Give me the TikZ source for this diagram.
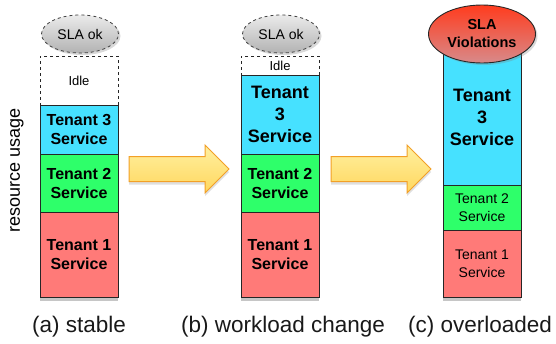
\documentclass[tikz,border=0pt]{standalone}
\usepackage{fontspec}
\setmainfont{Liberation Sans}
\usepackage{tikz}
\usetikzlibrary{shapes,fit,calc,positioning,shadows,backgrounds}

\definecolor{tenantthree}{HTML}{46E1FF}
\definecolor{tenanttwo}{HTML}{2EFF6A}
\definecolor{tenantone}{HTML}{FF7A78}
\definecolor{arrowline}{HTML}{F2A027}
\definecolor{arrowtop}{HTML}{FFF0A0}
\definecolor{arrowbottom}{HTML}{FFD75E}
\definecolor{violtop}{HTML}{FF3C1E}
\definecolor{violbottom}{HTML}{D88A8A}

\begin{document}
\begin{tikzpicture}[x=1pt, y=-1pt,
      every node/.append style={inner sep=0pt, outer sep=0pt, align=center},
      slice/.style={draw=black!85, line width=0.9pt, minimum width=78pt},
      idlebox/.style={slice, dashed, fill=white, font=\fontsize{13}{15}\selectfont},
      big/.style={font=\fontsize{16}{19}\selectfont\bfseries},
      huge/.style={font=\fontsize{18}{22}\selectfont\bfseries},
      small/.style={font=\fontsize{14}{18}\selectfont},
      colshadow/.style={fill=white, drop shadow={shadow xshift=0pt, shadow yshift=-4pt, opacity=.45}},
      slaok/.style={ellipse, draw=black!75, dashed, line width=0.8pt, minimum width=77pt, minimum height=38pt,
        top color=black!8, bottom color=black!30, font=\fontsize{14}{16}\selectfont,
        drop shadow={shadow xshift=2pt, shadow yshift=-2pt, opacity=.3}},
      slabad/.style={ellipse, draw=black!85, line width=0.9pt, minimum width=107pt, minimum height=58pt,
        top color=violtop, bottom color=violbottom, font=\fontsize{14.5}{18}\selectfont\bfseries,
        drop shadow={shadow xshift=2pt, shadow yshift=-2pt, opacity=.3}},
      bigarrow/.style={single arrow, inner xsep=0pt, inner ysep=12pt, minimum height=100pt, minimum width=47pt,
        single arrow head extend=11.5pt, single arrow tip angle=90, draw=arrowline, line width=1pt,
        top color=arrowtop, bottom color=arrowbottom, anchor=tail,
        drop shadow={shadow xshift=0pt, shadow yshift=-3pt, opacity=.25}},
      caption/.style={font=\fontsize{22.5}{26}\selectfont, text=black!90}]
    \useasboundingbox (0,0) rectangle (556,343);

    % (a) stable
    \node (tenant1a) [slice, big, fill=tenantone, minimum height=85pt, anchor=south west] at (40,297) {Tenant 1\\Service};
    \node (tenant2a) [slice, big, fill=tenanttwo, minimum height=58pt, above=0pt of tenant1a] {Tenant 2\\Service};
    \node (tenant3a) [slice, big, fill=tenantthree, minimum height=49pt, above=0pt of tenant2a] {Tenant 3\\Service};
    \node (idlea) [idlebox, minimum height=49pt, above=0pt of tenant3a] {Idle};
    \node (slaoka) [slaok] at (80,34) {SLA ok};

    % (b) workload change
    \node (tenant1b) [slice, big, fill=tenantone, minimum height=85pt, anchor=south west] at (241,297) {Tenant 1\\Service};
    \node (tenant2b) [slice, big, fill=tenanttwo, minimum height=58pt, above=0pt of tenant1b] {Tenant 2\\Service};
    \node (tenant3b) [slice, huge, fill=tenantthree, minimum height=79pt, above=0pt of tenant2b] {Tenant\\3\\Service};
    \node (idleb) [idlebox, minimum height=19pt, above=0pt of tenant3b] {Idle};
    \node (slaokb) [slaok] at (281,34) {SLA ok};

    % (c) overloaded
    \node (tenant1c) [slice, small, fill=tenantone, minimum height=67pt, anchor=south west] at (443,297) {Tenant 1\\Service};
    \node (tenant2c) [slice, small, fill=tenanttwo, minimum height=45pt, above=0pt of tenant1c] {Tenant 2\\Service};
    \node (tenant3c) [slice, huge, fill=tenantthree, minimum height=135pt, above=0pt of tenant2c] {Tenant\\3\\Service};
    \node (slaviolc) [slabad] at (482,34) {SLA\\Violations};

    \begin{scope}[on background layer]
      \node (shadowa) [colshadow, fit=(tenant1a)(idlea)] {};
      \node (shadowb) [colshadow, fit=(tenant1b)(idleb)] {};
      \node (shadowc) [colshadow, fit=(tenant1c)(tenant3c)] {};
    \end{scope}

    \node (stepab) [bigarrow] at (129,169) {};
    \node (stepbc) [bigarrow] at (331,169) {};

    \node (usage) [rotate=90, font=\fontsize{18}{20}\selectfont] at (17,170) {resource usage};
    \node (captiona) [caption] at (79,327) {(a) stable};
    \node (captionb) [caption] at (283,327) {(b) workload change};
    \node (captionc) [caption] at (480,327) {(c) overloaded};
  \end{tikzpicture}
\end{document}
